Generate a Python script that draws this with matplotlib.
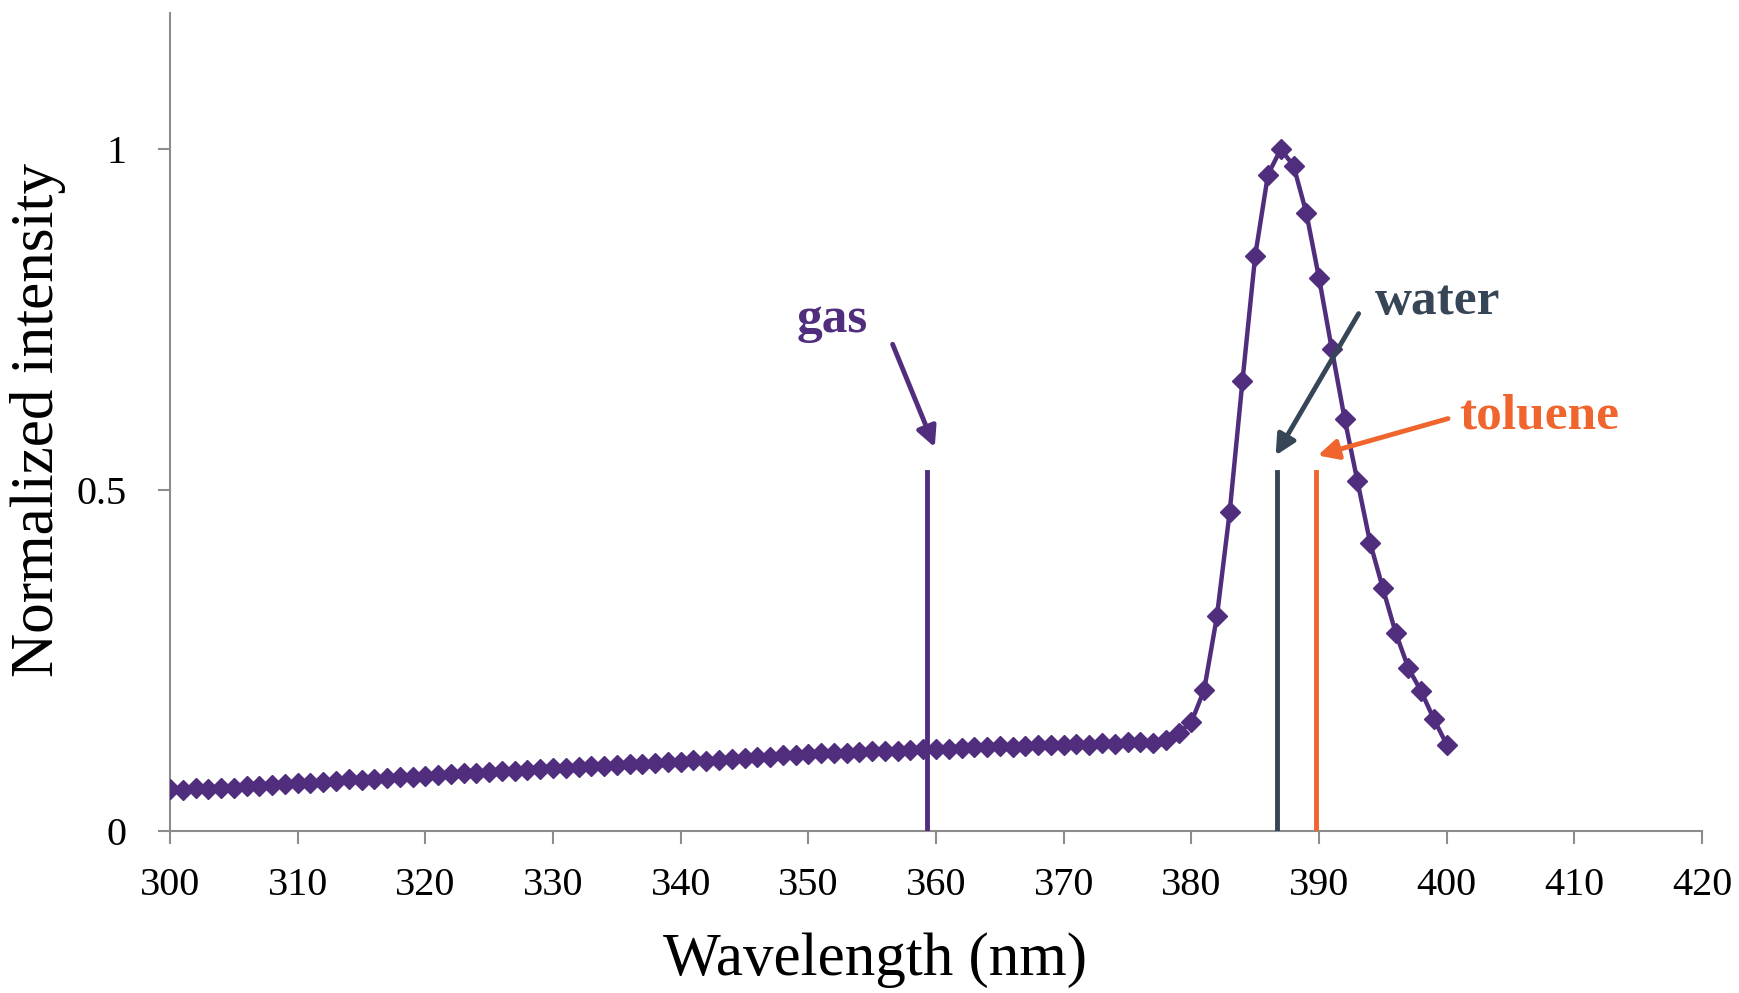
import matplotlib.pyplot as plt

wavelength = list(range(300, 401))
intensity = [
    0.062, 0.061, 0.063, 0.062, 0.064, 0.064, 0.066, 0.066, 0.068, 0.069,
    0.070, 0.071, 0.072, 0.073, 0.076, 0.075, 0.077, 0.078, 0.079, 0.079,
    0.081, 0.082, 0.084, 0.085, 0.086, 0.087, 0.088, 0.088, 0.089, 0.091,
    0.092, 0.093, 0.094, 0.095, 0.096, 0.097, 0.098, 0.099, 0.100, 0.101,
    0.102, 0.104, 0.103, 0.105, 0.106, 0.108, 0.109, 0.109, 0.111, 0.112,
    0.113, 0.115, 0.114, 0.115, 0.116, 0.117, 0.117, 0.118, 0.119, 0.120,
    0.121, 0.120, 0.122, 0.123, 0.123, 0.125, 0.124, 0.125, 0.127, 0.126,
    0.127, 0.128, 0.127, 0.129, 0.128, 0.130, 0.130, 0.129, 0.133, 0.144,
    0.160, 0.207, 0.315, 0.468, 0.660, 0.844, 0.963, 1.000, 0.976, 0.907,
    0.811, 0.707, 0.605, 0.514, 0.423, 0.356, 0.291, 0.239, 0.205, 0.164,
    0.127,
]

# peak positions of each medium (nm)
media = ["gas", "water", "toluene"]
media_pos = [359.3, 386.7, 389.8]
media_colors = ["#512d7e", "#364656", "#f0642d"]
line_top = 0.527

# arrow tail / head and label positions (data coords)
arrow_tail = [(356.6, 0.714), (393.1, 0.759), (400.1, 0.605)]
arrow_head = [(359.9, 0.563), (386.6, 0.551), (389.9, 0.551)]
label_pos = [(351.9, 0.75), (399.3, 0.776), (401.0, 0.608)]
label_ha = ["center", "center", "left"]

plt.rcParams["font.family"] = ["Liberation Serif", "DejaVu Serif"]

fig = plt.figure(figsize=(17.4, 9.93), dpi=100)
ax = fig.add_axes([0.0977, 0.163, 0.8805, 0.824])

ax.plot(wavelength, intensity, color="#512d7e", lw=3.2, marker="D",
        markersize=10.5, zorder=3)

for pos, col in zip(media_pos, media_colors):
    ax.plot([pos, pos], [-0.012, line_top], color=col, lw=3.5, zorder=4)

for name, col, t, h, lp, ha in zip(media, media_colors, arrow_tail,
                                   arrow_head, label_pos, label_ha):
    ax.annotate("", xy=h, xytext=t,
                arrowprops=dict(arrowstyle="-|>", color=col, lw=3.5,
                                mutation_scale=30, shrinkA=0, shrinkB=0),
                zorder=5)
    ax.text(lp[0], lp[1], name, color=col, fontsize=37, fontweight="bold",
            ha=ha, va="center")

ax.set_xlim(300, 420)
ax.set_ylim(0, 1.2)
ax.set_xticks(range(300, 421, 10))
ax.set_yticks([0, 0.5, 1])
ax.set_yticklabels(["0", "0.5", "1"])
ax.set_xlabel("Wavelength (nm)", fontsize=44)
ax.set_ylabel("Normalized intensity", fontsize=44)
ax.xaxis.set_label_coords(0.46, -0.123)
ax.yaxis.set_label_coords(-0.068, 0.503)

for s in ["top", "right"]:
    ax.spines[s].set_visible(False)
for s in ["left", "bottom"]:
    ax.spines[s].set_color("#8c8c8c")
    ax.spines[s].set_linewidth(1.5)
ax.tick_params(axis="both", colors="#8c8c8c", labelcolor="black",
               labelsize=29, length=9, width=1.5)
ax.tick_params(axis="x", pad=17)
ax.tick_params(axis="y", pad=22)

fig.savefig("out.png", dpi=100)
